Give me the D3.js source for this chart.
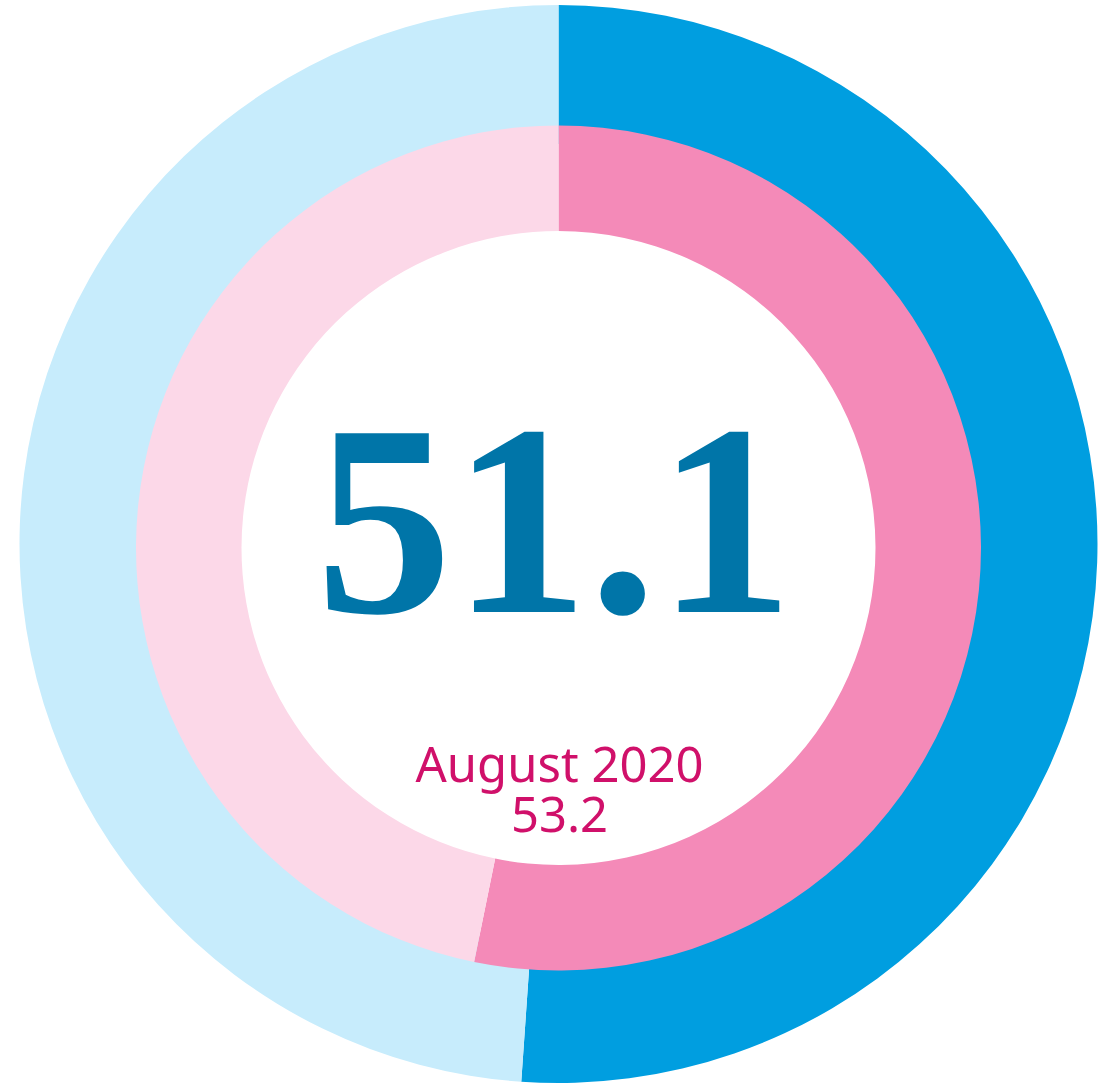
<!DOCTYPE html>
<html>
<head>
<meta charset="utf-8">
<script src="https://cdn.jsdelivr.net/npm/d3@7"></script>
<style>
  html, body { margin: 0; padding: 0; background: #fff; }
  svg { display: block; }
</style>
</head>
<body>
<svg width="1112" height="1085"></svg>
<script>
// values
var outerValues = [51.1, 48.9];
var innerValues = [53.2, 46.8];
var outerColors = ["#009ee0", "#c7ecfc"];
var innerColors = ["#f48ab8", "#fcd8e8"];
var mainLabel = "51.1";
var subLabels = ["August 2020", "53.2"];

var cx = 558.5, cy = 548;

var svg = d3.select('svg');

var pie = d3.pie()
            .sort(null)
            .value(d => d);

var outerArc = d3.arc()
                 .innerRadius(400)
                 .outerRadius(539);

var innerArc = d3.arc()
                 .innerRadius(317)
                 .outerRadius(422.5);

svg.append('g')
  .attr('transform', 'translate(' + cx + ',' + (cy - 4) + ')')
  .selectAll('path.outer')
  .data(pie(outerValues))
  .enter()
  .append('path')
    .attr('class', 'outer')
    .attr('d', outerArc)
    .style('fill', (d, i) => outerColors[i]);

var g = svg.append('g')
           .attr('transform', 'translate(' + cx + ',' + cy + ')');

g.append('circle')
  .attr('r', 317)
  .style('fill', '#fff');

g.selectAll('path.inner')
  .data(pie(innerValues))
  .enter()
  .append('path')
    .attr('class', 'inner')
    .attr('d', innerArc)
    .style('fill', (d, i) => innerColors[i]);

g.append('text')
  .attr('x', -4)
  .attr('y', 612 - cy)
  .attr('text-anchor', 'middle')
  .style('font-family', '"Liberation Serif", serif')
  .style('font-weight', 'bold')
  .style('font-size', '273px')
  .style('fill', '#0075a8')
  .text(mainLabel);

g.selectAll('text.sub')
  .data(subLabels)
  .enter()
  .append('text')
    .attr('class', 'sub')
    .attr('x', 1)
    .attr('y', (d, i) => 782 - cy + i * 50)
    .attr('text-anchor', 'middle')
    .style('font-family', '"Noto Sans", sans-serif')
    .style('font-size', '49px')
    .style('fill', '#d0106a')
    .text(d => d);
</script>
</body>
</html>
